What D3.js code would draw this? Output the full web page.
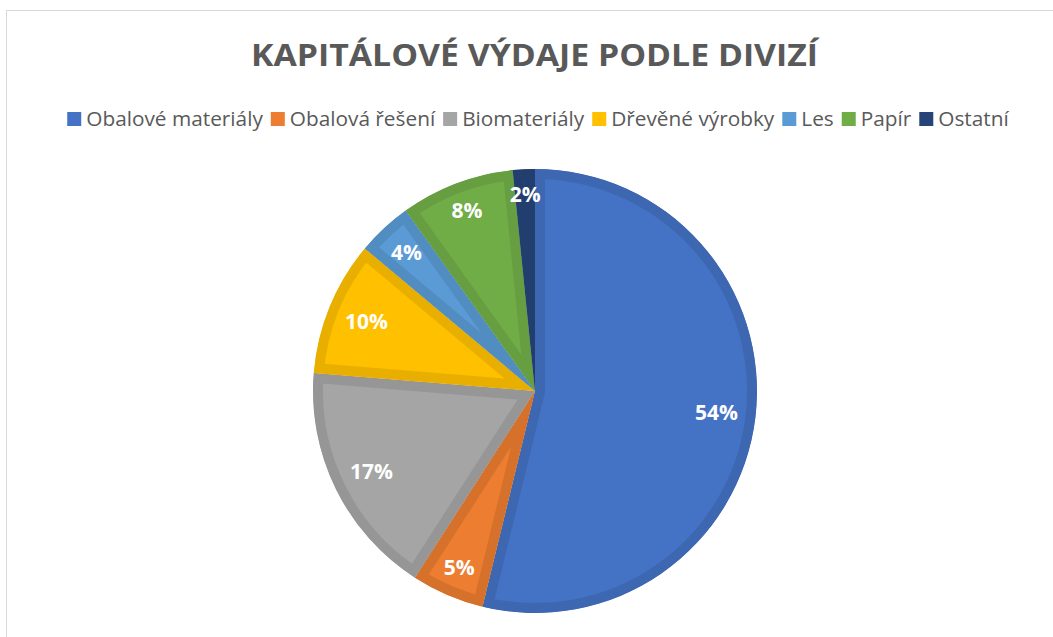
<!DOCTYPE html>
<html>
<head>
<meta charset="utf-8">
<script src="https://cdn.jsdelivr.net/npm/d3@7"></script>
<style>
  body { margin: 0; background: #fff; }
  svg { display: block; }
</style>
</head>
<body>
<div id="chart"></div>
<script>
var title = 'KAPITÁLOVÉ VÝDAJE PODLE DIVIZÍ';
var categories = ['Obalové materiály', 'Obalová řešení', 'Biomateriály', 'Dřevěné výrobky', 'Les', 'Papír', 'Ostatní'];
var values = [53.8, 5.3, 17.2, 9.8, 4.0, 8.3, 1.6];
var fills = ['#4472C4', '#ED7D31', '#A5A5A5', '#FFC000', '#5B9BD5', '#70AD47', '#264478'];
var borders = ['#3E67B2', '#D6712B', '#969696', '#E8AE00', '#528DC2', '#669E41', '#223E6E'];

var width = 1053, height = 637;
var cx = 535, cy = 391, radius = 222;

var svg = d3.select('#chart')
  .append('svg')
  .attr('width', width)
  .attr('height', height);

// chart frame
svg.append('rect')
  .attr('x', 6.5).attr('y', 10.5)
  .attr('width', 1060).attr('height', 700)
  .attr('fill', '#fff')
  .attr('stroke', '#d9d9d9')
  .attr('stroke-width', 1);

// title
svg.append('text')
  .attr('x', 534.5)
  .attr('y', 66)
  .attr('text-anchor', 'middle')
  .attr('font-family', 'Open Sans')
  .attr('font-weight', 700)
  .attr('font-size', 31)
  .attr('fill', '#595959')
  .attr('textLength', 567)
  .attr('lengthAdjust', 'spacingAndGlyphs')
  .text(title);

// legend
var legend = svg.append('g').attr('class', 'legend');
var items = legend.selectAll('g')
  .data(categories)
  .enter().append('g');

items.append('rect')
  .attr('width', 14)
  .attr('height', 14)
  .attr('y', 112)
  .attr('fill', function(d, i) { return fills[i]; });

items.append('text')
  .attr('y', 126)
  .attr('font-family', 'Open Sans')
  .attr('font-size', 20.8)
  .attr('fill', '#595959')
  .text(function(d) { return d; });

var pos = 0;
items.each(function() {
  var g = d3.select(this);
  var w = g.select('text').node().getComputedTextLength();
  g.select('rect').attr('x', pos);
  g.select('text').attr('x', pos + 19);
  pos += 19 + w + 8;
});
pos -= 8;
// legend spans 67..1009
var lx = 538 - pos / 2;
legend.attr('transform', 'translate(' + lx + ',0)');

// pie
var pie = d3.pie().sort(null).value(function(d) { return d; });
var arc = d3.arc().innerRadius(0).outerRadius(radius);
var arcs = pie(values);
var total = d3.sum(values);

var defs = svg.append('defs');
defs.selectAll('clipPath')
  .data(arcs)
  .enter().append('clipPath')
  .attr('id', function(d, i) { return 'slice' + i; })
  .append('path')
  .attr('d', arc);

var pieG = svg.append('g')
  .attr('transform', 'translate(' + cx + ',' + cy + ')');

pieG.selectAll('path.slice')
  .data(arcs)
  .enter().append('path')
  .attr('class', 'slice')
  .attr('d', arc)
  .attr('fill', function(d, i) { return fills[i]; })
  .attr('stroke', function(d, i) { return borders[i]; })
  .attr('stroke-width', 20)
  .attr('stroke-linejoin', 'miter')
  .attr('clip-path', function(d, i) { return 'url(#slice' + i + ')'; });

// labels, placed inside end
var pad = 17;
var labels = pieG.selectAll('text.lbl')
  .data(arcs)
  .enter().append('text')
  .attr('class', 'lbl')
  .attr('text-anchor', 'middle')
  .attr('font-family', 'Open Sans')
  .attr('font-weight', 700)
  .attr('font-size', 21)
  .attr('fill', '#fff')
  .text(function(d) { return Math.round(d.value / total * 100) + '%'; });

labels.each(function(d) {
  var t = d3.select(this);
  var w = this.getComputedTextLength();
  var h = 15;
  var a = (d.startAngle + d.endAngle) / 2;
  var sx = Math.sin(a), sy = -Math.cos(a);
  var r = radius - pad - (w / 2) * Math.abs(sx) - (h / 2) * Math.abs(sy);
  var x = r * sx, y = r * sy;
  t.attr('x', x).attr('y', y + h / 2);
});
</script>
</body>
</html>
